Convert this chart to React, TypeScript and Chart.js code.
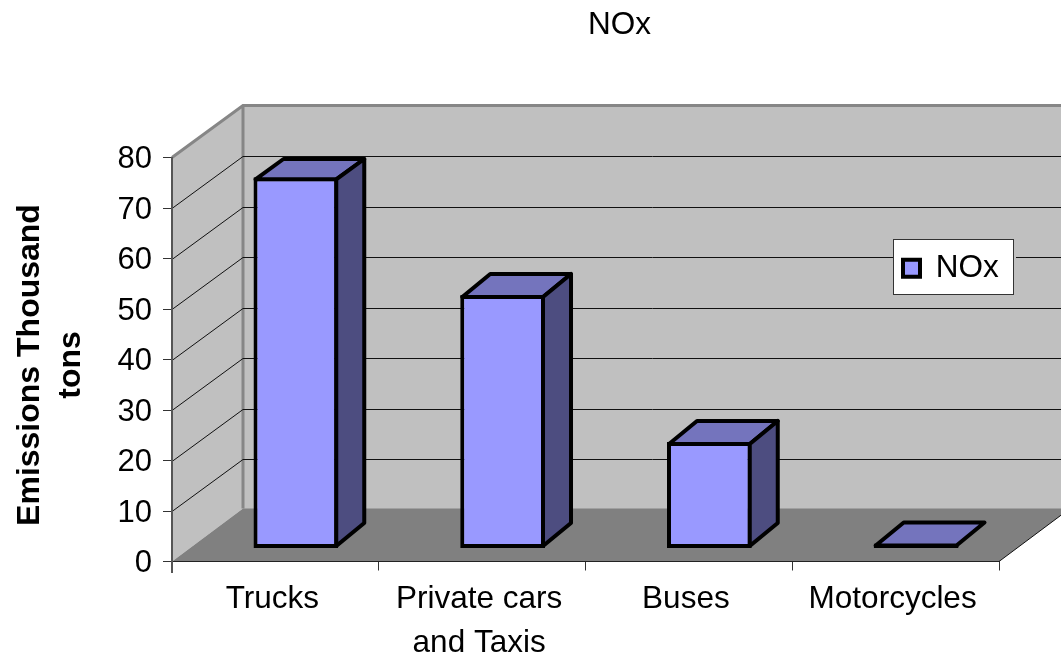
import React, { useEffect, useRef } from "react";
import { Chart, registerables } from "chart.js";

Chart.register(...registerables);

const chartTitle = "NOx";
const seriesName = "NOx";
const categories: (string | string[])[] = ["Trucks", ["Private cars", "and Taxis"], "Buses", "Motorcycles"];
const noxValues = [73.5, 50.2, 21.1, 1.0];
const yTitle = ["Emissions Thousand", "tons"];

const FONT = "'Liberation Sans', Arial, sans-serif";
const WALL_DX = 71;
const WALL_DY = 52;
const FLOOR_DY = 53;
const BAR_SHIFT_X = 20.5;
const BAR_SHIFT_Y = -13;
const BAR_DX = 28;
const BAR_DY = -23;
const BAR_LINE = 4;

const poly = (ctx: CanvasRenderingContext2D, pts: number[][]) => {
  ctx.beginPath();
  pts.forEach(([x, y], i) => (i ? ctx.lineTo(x, y) : ctx.moveTo(x, y)));
  ctx.closePath();
};

const walls3d = {
  id: "walls3d",
  afterLayout(chart: any) {
    const t = chart.titleBlock;
    if (t) {
      t.left += 120;
      t.right += 120;
    }
    const l = chart.legend;
    if (l) {
      l.left = 893;
      l.right = 1013;
      l.top = 242.5;
      l.bottom = 340;
    }
    chart.scales.y.bottom += 11;
  },
  beforeDraw(chart: any) {
    const { ctx, chartArea, scales } = chart;
    const { left, right } = chartArea;
    const y = scales.y;
    const y0 = y.getPixelForValue(0);
    const yMax = y.getPixelForValue(y.max);
    const far = right + WALL_DX;
    ctx.save();
    // back wall and side wall
    ctx.fillStyle = "#c0c0c0";
    ctx.fillRect(left + WALL_DX, yMax - WALL_DY, far - left, y0 - yMax);
    poly(ctx, [[left, yMax], [left + WALL_DX, yMax - WALL_DY], [left + WALL_DX, y0 - FLOOR_DY], [left, y0]]);
    ctx.fill();
    // floor
    ctx.fillStyle = "#808080";
    poly(ctx, [[left, y0], [right, y0], [far, y0 - FLOOR_DY], [left + WALL_DX, y0 - FLOOR_DY]]);
    ctx.fill();
    // wall edges
    ctx.strokeStyle = "#868686";
    ctx.lineWidth = 3;
    ctx.beginPath();
    ctx.moveTo(left, yMax);
    ctx.lineTo(left + WALL_DX, yMax - WALL_DY);
    ctx.lineTo(far, yMax - WALL_DY);
    ctx.moveTo(left + WALL_DX, yMax - WALL_DY);
    ctx.lineTo(left + WALL_DX, y0 - FLOOR_DY);
    ctx.stroke();
    // grid lines
    ctx.strokeStyle = "#111";
    ctx.lineWidth = 1;
    y.ticks.forEach((tk: any) => {
      if (tk.value === 0 || tk.value === y.max) return;
      const py = Math.round(y.getPixelForValue(tk.value)) + 0.5;
      ctx.beginPath();
      ctx.moveTo(left, py);
      ctx.lineTo(left + WALL_DX, py - WALL_DY);
      ctx.lineTo(far, py - WALL_DY);
      ctx.stroke();
    });
    // floor front-right edge
    ctx.beginPath();
    ctx.moveTo(right, y0);
    ctx.lineTo(far, y0 - FLOOR_DY);
    ctx.stroke();
    // legend frame, with the small gap the reference leaves on its right
    ctx.fillStyle = "#c0c0c0";
    ctx.fillRect(1013, 239, 3, 56);
    ctx.fillStyle = "#fff";
    ctx.fillRect(893.5, 239.5, 120, 55);
    ctx.strokeStyle = "#333";
    ctx.strokeRect(893.5, 239.5, 120, 55);
    ctx.restore();
  },
  beforeDatasetDraw(chart: any) {
    chart.ctx.save();
    chart.ctx.translate(BAR_SHIFT_X, BAR_SHIFT_Y);
  },
  afterDatasetDraw(chart: any, args: any) {
    const { ctx, scales } = chart;
    const meta = args.meta;
    const half = BAR_LINE / 2;
    // the top of a bar's depth cannot rise above this line
    const ceiling = scales.y.getPixelForValue(scales.y.max) - BAR_SHIFT_Y + 1.5;
    ctx.lineWidth = BAR_LINE;
    ctx.lineJoin = "round";
    ctx.lineCap = "round";
    ctx.strokeStyle = "#000";
    meta.data.forEach((bar: any) => {
      const l = bar.x - bar.width / 2 + half;
      const r = bar.x + bar.width / 2 - half;
      const t = bar.y + half;
      const b = bar.base - half;
      const top = Math.min(t, b);
      const back = Math.max(top + BAR_DY, ceiling);
      ctx.fillStyle = "#7474bd";
      poly(ctx, [[l, top], [r, top], [r + BAR_DX, back], [l + BAR_DX, back]]);
      ctx.fill();
      ctx.stroke();
      if (b - top > 4) {
        ctx.fillStyle = "#4d4d80";
        poly(ctx, [[r, top], [r + BAR_DX, back], [r + BAR_DX, b + BAR_DY], [r, b]]);
        ctx.fill();
        ctx.stroke();
      } else {
        ctx.beginPath();
        ctx.moveTo(l, b);
        ctx.lineTo(r, b);
        ctx.stroke();
      }
    });
    ctx.restore();
  },
};

export default function App() {
  const ref = useRef<HTMLCanvasElement>(null);
  useEffect(() => {
    const chart = new Chart(ref.current!, {
      type: "bar",
      data: {
        labels: categories as any,
        datasets: [
          {
            label: seriesName,
            data: noxValues,
            backgroundColor: "#9999ff",
            borderColor: "#000",
            borderWidth: BAR_LINE,
            borderSkipped: false,
            barPercentage: 0.41,
            categoryPercentage: 1,
            clip: false as any,
          },
        ],
      },
      options: {
        responsive: false,
        animation: false,
        layout: { padding: { left: 0, right: 62, top: 0, bottom: 0 } },
        plugins: {
          tooltip: { enabled: false },
          title: {
            display: true,
            text: chartTitle,
            color: "#000",
            font: { family: FONT, size: 31.5, weight: "normal", lineHeight: 1.2 },
            padding: { top: 6, bottom: 113.7 },
          },
          legend: {
            display: true,
            position: "chartArea",
            align: "start",
            labels: {
              color: "#000",
              font: { family: FONT, size: 31.5 },
              boxWidth: 17,
              boxHeight: 17,
              padding: 10,
            },
          },
        },
        scales: {
          x: {
            afterFit: (s: any) => {
              s.height = 92.5;
            },
            grid: { offset: true, drawOnChartArea: false, drawTicks: true, tickLength: 9, color: "#333" },
            border: { display: true, color: "#222", width: 1 },
            ticks: {
              color: "#000",
              autoSkip: false,
              maxRotation: 0,
              padding: 6.5,
              labelOffset: -3,
              font: { family: FONT, size: 31.5, lineHeight: 1.4 },
            },
          },
          y: {
            min: 0,
            max: 80,
            afterFit: (s: any) => {
              s.width = 172;
            },
            grid: { drawOnChartArea: false, drawTicks: true, tickLength: 9, color: "#333" },
            border: { display: true, color: "#555", width: 2 },
            ticks: {
              stepSize: 10,
              color: "#000",
              padding: 11,
              labelOffset: 2,
              font: { family: FONT, size: 31 },
            },
            title: {
              display: true,
              text: yTitle,
              color: "#000",
              padding: { top: 9, bottom: 0 },
              font: { family: FONT, size: 32, weight: "bold", lineHeight: 1.3 },
            },
          },
        },
      },
      plugins: [walls3d as any],
    });
    return () => chart.destroy();
  }, []);
  return (
    <div style={{ position: "fixed", left: 0, top: 0, width: 1061, height: 654, overflow: "hidden", background: "#fff" }}>
      <canvas ref={ref} width={1061} height={654} style={{ display: "block" }} />
    </div>
  );
}
